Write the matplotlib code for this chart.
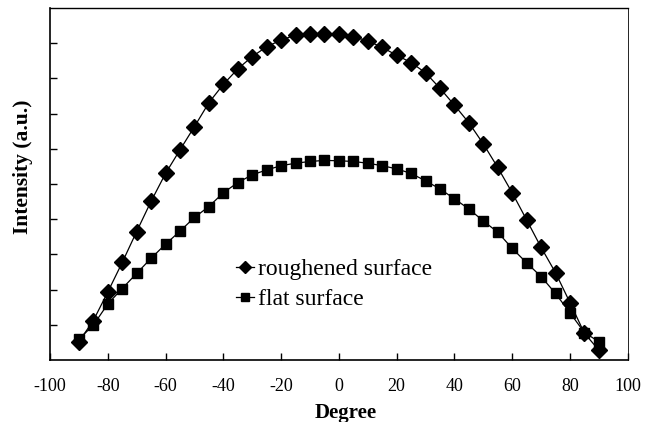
import matplotlib
matplotlib.use("Agg")
import matplotlib.pyplot as plt

plt.rcParams["font.family"] = ["Liberation Serif", "DejaVu Serif"]

# angle of emission (degree)
degree = list(range(-90, 91, 5))

# roughened surface intensity (a.u.)
roughened = [0.52, 1.12, 1.93, 2.77, 3.65, 4.51, 5.30, 5.97, 6.63, 7.31,
             7.83, 8.27, 8.62, 8.90, 9.09, 9.23, 9.26, 9.26, 9.26, 9.18,
             9.07, 8.88, 8.66, 8.45, 8.16, 7.72, 7.24, 6.74, 6.14, 5.47,
             4.75, 3.98, 3.20, 2.48, 1.63, 0.76, 0.28]

# flat surface intensity (a.u.)
flat = [0.59, 0.99, 1.59, 2.03, 2.46, 2.89, 3.29, 3.66, 4.05, 4.36,
        4.75, 5.04, 5.26, 5.40, 5.52, 5.59, 5.64, 5.67, 5.66, 5.64,
        5.59, 5.52, 5.43, 5.30, 5.09, 4.86, 4.58, 4.29, 3.95, 3.63,
        3.17, 2.76, 2.37, 1.89, 1.34, 0.78, 0.52]

xticks = list(range(-100, 101, 20))
yticks = list(range(1, 10))

fig = plt.figure(figsize=(6.58, 4.22), dpi=100)
ax = fig.add_axes([0.076, 0.147, 0.878, 0.834])

ax.plot(degree, roughened, color="black", linewidth=0.9, marker="D",
        markersize=8, label="roughened surface")
ax.plot(degree, flat, color="black", linewidth=0.9, marker="s",
        markersize=7.8, label="flat surface")

ax.set_xlim(-100, 100)
ax.set_ylim(0, 10)
ax.set_xticks(xticks)
ax.set_xticklabels([str(t) for t in xticks], fontsize=13)
ax.set_yticks(yticks)
ax.set_yticklabels([])
ax.tick_params(direction="in", length=5, width=1)
ax.tick_params(axis="x", pad=13)

for side in ax.spines.values():
    side.set_linewidth(1.2)
ax.spines["right"].set_linewidth(0.6)
ax.spines["top"].set_linewidth(1.0)

ax.set_xlabel("Degree", fontsize=15, fontweight="bold")
ax.xaxis.set_label_coords(0.512, -0.122)
ax.set_ylabel("Intensity (a.u.)", fontsize=15.5, fontweight="bold")
ax.yaxis.set_label_coords(-0.03, 0.548)

ax.legend(loc="center left", bbox_to_anchor=(0.322, 0.214), frameon=False,
          fontsize=17, handlelength=0.75, handletextpad=0.2,
          labelspacing=0.36, borderpad=0, borderaxespad=0, markerscale=0.8)

fig.savefig("out.png", dpi=100)
